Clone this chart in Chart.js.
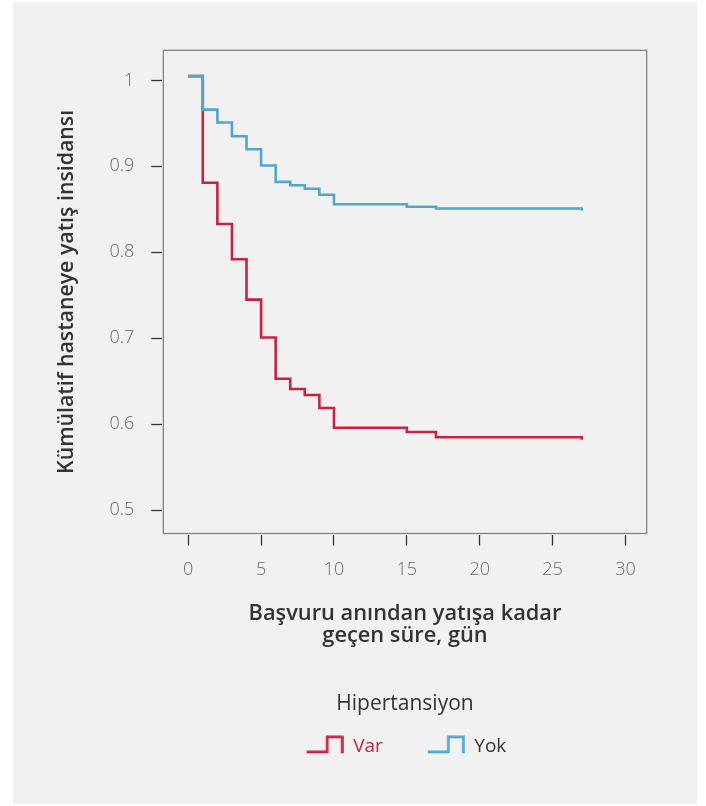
<!DOCTYPE html>
<html lang="tr">
<head>
<meta charset="utf-8">
<title>Hipertansiyon ve hastaneye yatış</title>
<script src="https://cdn.jsdelivr.net/npm/chart.js@4.4.1/dist/chart.umd.min.js"></script>
<style>
  html, body { margin: 0; padding: 0; background: #ffffff; }
  #wrap { position: relative; width: 706px; height: 806px; }
</style>
</head>
<body>
<div id="wrap"><canvas id="km"></canvas></div>
<script>
// Time axis (days since admission); 27 appears twice for the closing tick of each curve
const days = [0, 1, 2, 3, 4, 5, 6, 7, 8, 9, 10, 15, 17, 27, 27];
// Cumulative hospitalisation curves per group
const varValues = [1.005, 0.881, 0.833, 0.792, 0.745, 0.701, 0.653, 0.641, 0.634, 0.619, 0.596, 0.591, 0.585, 0.585, 0.582];
const yokValues = [1.005, 0.966, 0.951, 0.935, 0.920, 0.901, 0.882, 0.878, 0.874, 0.867, 0.856, 0.853, 0.851, 0.851, 0.8485];
const seriesNames = ['Var', 'Yok'];
const xTicks = [0, 5, 10, 15, 20, 25, 30];
const yTicks = [0.5, 0.6, 0.7, 0.8, 0.9, 1];
const yTickLabels = ['0.5', '0.6', '0.7', '0.8', '0.9', '1'];

const RED = '#c8223f';
const BLUE = '#52a6ce';
const DARK = '#333333';
const TICK_TEXT = '#6a6a6a';
const FONT = "'Open Sans', 'Noto Sans', sans-serif";

Chart.defaults.font.family = FONT;

// Small step-shaped legend glyph (left margin keeps the gap to the label)
function stepIcon(color) {
  const c = document.createElement('canvas');
  c.width = 40; c.height = 24;
  const g = c.getContext('2d');
  g.strokeStyle = color;
  g.lineWidth = 2.6;
  g.lineJoin = 'miter';
  g.lineCap = 'butt';
  g.beginPath();
  g.moveTo(3, 17.6);
  g.lineTo(23.5, 17.6);
  g.lineTo(23.5, 2.6);
  g.lineTo(38.5, 2.6);
  g.lineTo(38.5, 19);
  g.stroke();
  return c;
}
const icons = [stepIcon(RED), stepIcon(BLUE)];
const legendTextColors = [RED, DARK];

// Layout constants
const AREA_TOP = 50.3, AREA_BOTTOM = 533.5, AREA_LEFT = 163.3, AREA_RIGHT = 646.7;
const X_AXIS_H = 113.5;
const LEG_TITLE_SIZE = 21, LEG_TITLE_LH = 25, LEG_TITLE_PT = 46.5, LEG_TITLE_PB = -23.7;
const LEG_FONT = 19, LEG_PAD = 42;
const LEGEND_H = (LEG_TITLE_LH + LEG_TITLE_PT + LEG_TITLE_PB) + LEG_FONT + LEG_PAD + 10;
const PAD_BOTTOM = 806 - AREA_BOTTOM - X_AXIS_H - LEGEND_H;

const toPoints = vals => days.map((d, i) => ({ x: d, y: vals[i] }));

const framePlugin = {
  id: 'frame',
  beforeDraw(chart) {
    const ctx = chart.ctx;
    ctx.save();
    ctx.fillStyle = '#f1f1f1';
    ctx.fillRect(13, 2, 684, 802);
    ctx.restore();
  },
  beforeDatasetsDraw(chart) {
    const { ctx, chartArea: a } = chart;
    ctx.save();
    ctx.strokeStyle = '#7c7c7c';
    ctx.lineWidth = 1.2;
    ctx.strokeRect(a.left, a.top, a.right - a.left, a.bottom - a.top);
    ctx.restore();
  }
};

const lineStyle = {
  borderWidth: 2.6,
  stepped: 'before',
  pointRadius: 0,
  fill: false,
  borderCapStyle: 'butt',
  borderJoinStyle: 'miter'
};

new Chart(document.getElementById('km'), {
  type: 'line',
  data: {
    datasets: [
      Object.assign({
        label: seriesNames[0],
        data: toPoints(varValues),
        borderColor: RED,
        backgroundColor: RED,
        order: 1
      }, lineStyle),
      Object.assign({
        label: seriesNames[1],
        data: toPoints(yokValues),
        borderColor: BLUE,
        backgroundColor: BLUE,
        order: 0
      }, lineStyle)
    ]
  },
  options: {
    responsive: true,
    maintainAspectRatio: false,
    animation: false,
    events: [],
    layout: { padding: { top: AREA_TOP, left: 0, right: 706 - AREA_RIGHT, bottom: PAD_BOTTOM } },
    scales: {
      x: {
        type: 'linear',
        min: -1.71,
        max: 31.46,
        afterBuildTicks: s => { s.ticks = xTicks.map(v => ({ value: v })); },
        afterFit: s => { s.height = X_AXIS_H; },
        grid: { drawOnChartArea: false, drawTicks: true, tickLength: 12, tickColor: '#333', tickWidth: 1.3 },
        border: { display: true, width: 3, color: 'rgba(0,0,0,0)' },
        ticks: {
          padding: 14,
          color: TICK_TEXT,
          font: { size: 18, weight: 300 },
          maxRotation: 0,
          callback: v => String(v)
        },
        title: {
          display: true,
          text: ['Başvuru anından yatışa kadar', 'geçen süre, gün'],
          color: DARK,
          font: { size: 21.8, weight: 600, lineHeight: 22 / 21.8 },
          padding: { top: 0, bottom: 0 }
        }
      },
      y: {
        type: 'linear',
        min: 0.473,
        max: 1.035,
        afterBuildTicks: s => { s.ticks = yTicks.map(v => ({ value: v })); },
        afterFit: s => { s.width = AREA_LEFT; },
        grid: { drawOnChartArea: false, drawTicks: true, tickLength: 12, tickColor: '#333', tickWidth: 1.3 },
        border: { display: true, width: 3, color: 'rgba(0,0,0,0)' },
        ticks: {
          padding: 17,
          color: TICK_TEXT,
          font: { size: 18, weight: 300 },
          callback: v => yTickLabels[yTicks.indexOf(Math.round(v * 10) / 10)]
        },
        title: {
          display: true,
          text: 'Kümülatif hastaneye yatış insidansı',
          color: DARK,
          font: { size: 21.3, weight: 600, lineHeight: 1.2 },
          padding: { top: 54, bottom: 0 }
        }
      }
    },
    plugins: {
      tooltip: { enabled: false },
      legend: {
        display: true,
        position: 'bottom',
        align: 'center',
        fullSize: false,
        title: {
          display: true,
          text: 'Hipertansiyon',
          color: DARK,
          font: { size: LEG_TITLE_SIZE, weight: 400, lineHeight: LEG_TITLE_LH / LEG_TITLE_SIZE },
          padding: { top: LEG_TITLE_PT, bottom: LEG_TITLE_PB }
        },
        labels: {
          usePointStyle: true,
          pointStyleWidth: 40,
          padding: LEG_PAD,
          color: DARK,
          font: { size: LEG_FONT, weight: 400 },
          generateLabels: chart => chart.data.datasets.map((ds, i) => ({
            text: ds.label,
            fillStyle: ds.borderColor,
            strokeStyle: ds.borderColor,
            lineWidth: 0,
            pointStyle: icons[i],
            fontColor: legendTextColors[i],
            hidden: false,
            datasetIndex: i
          }))
        }
      }
    }
  },
  plugins: [framePlugin]
});
</script>
</body>
</html>
